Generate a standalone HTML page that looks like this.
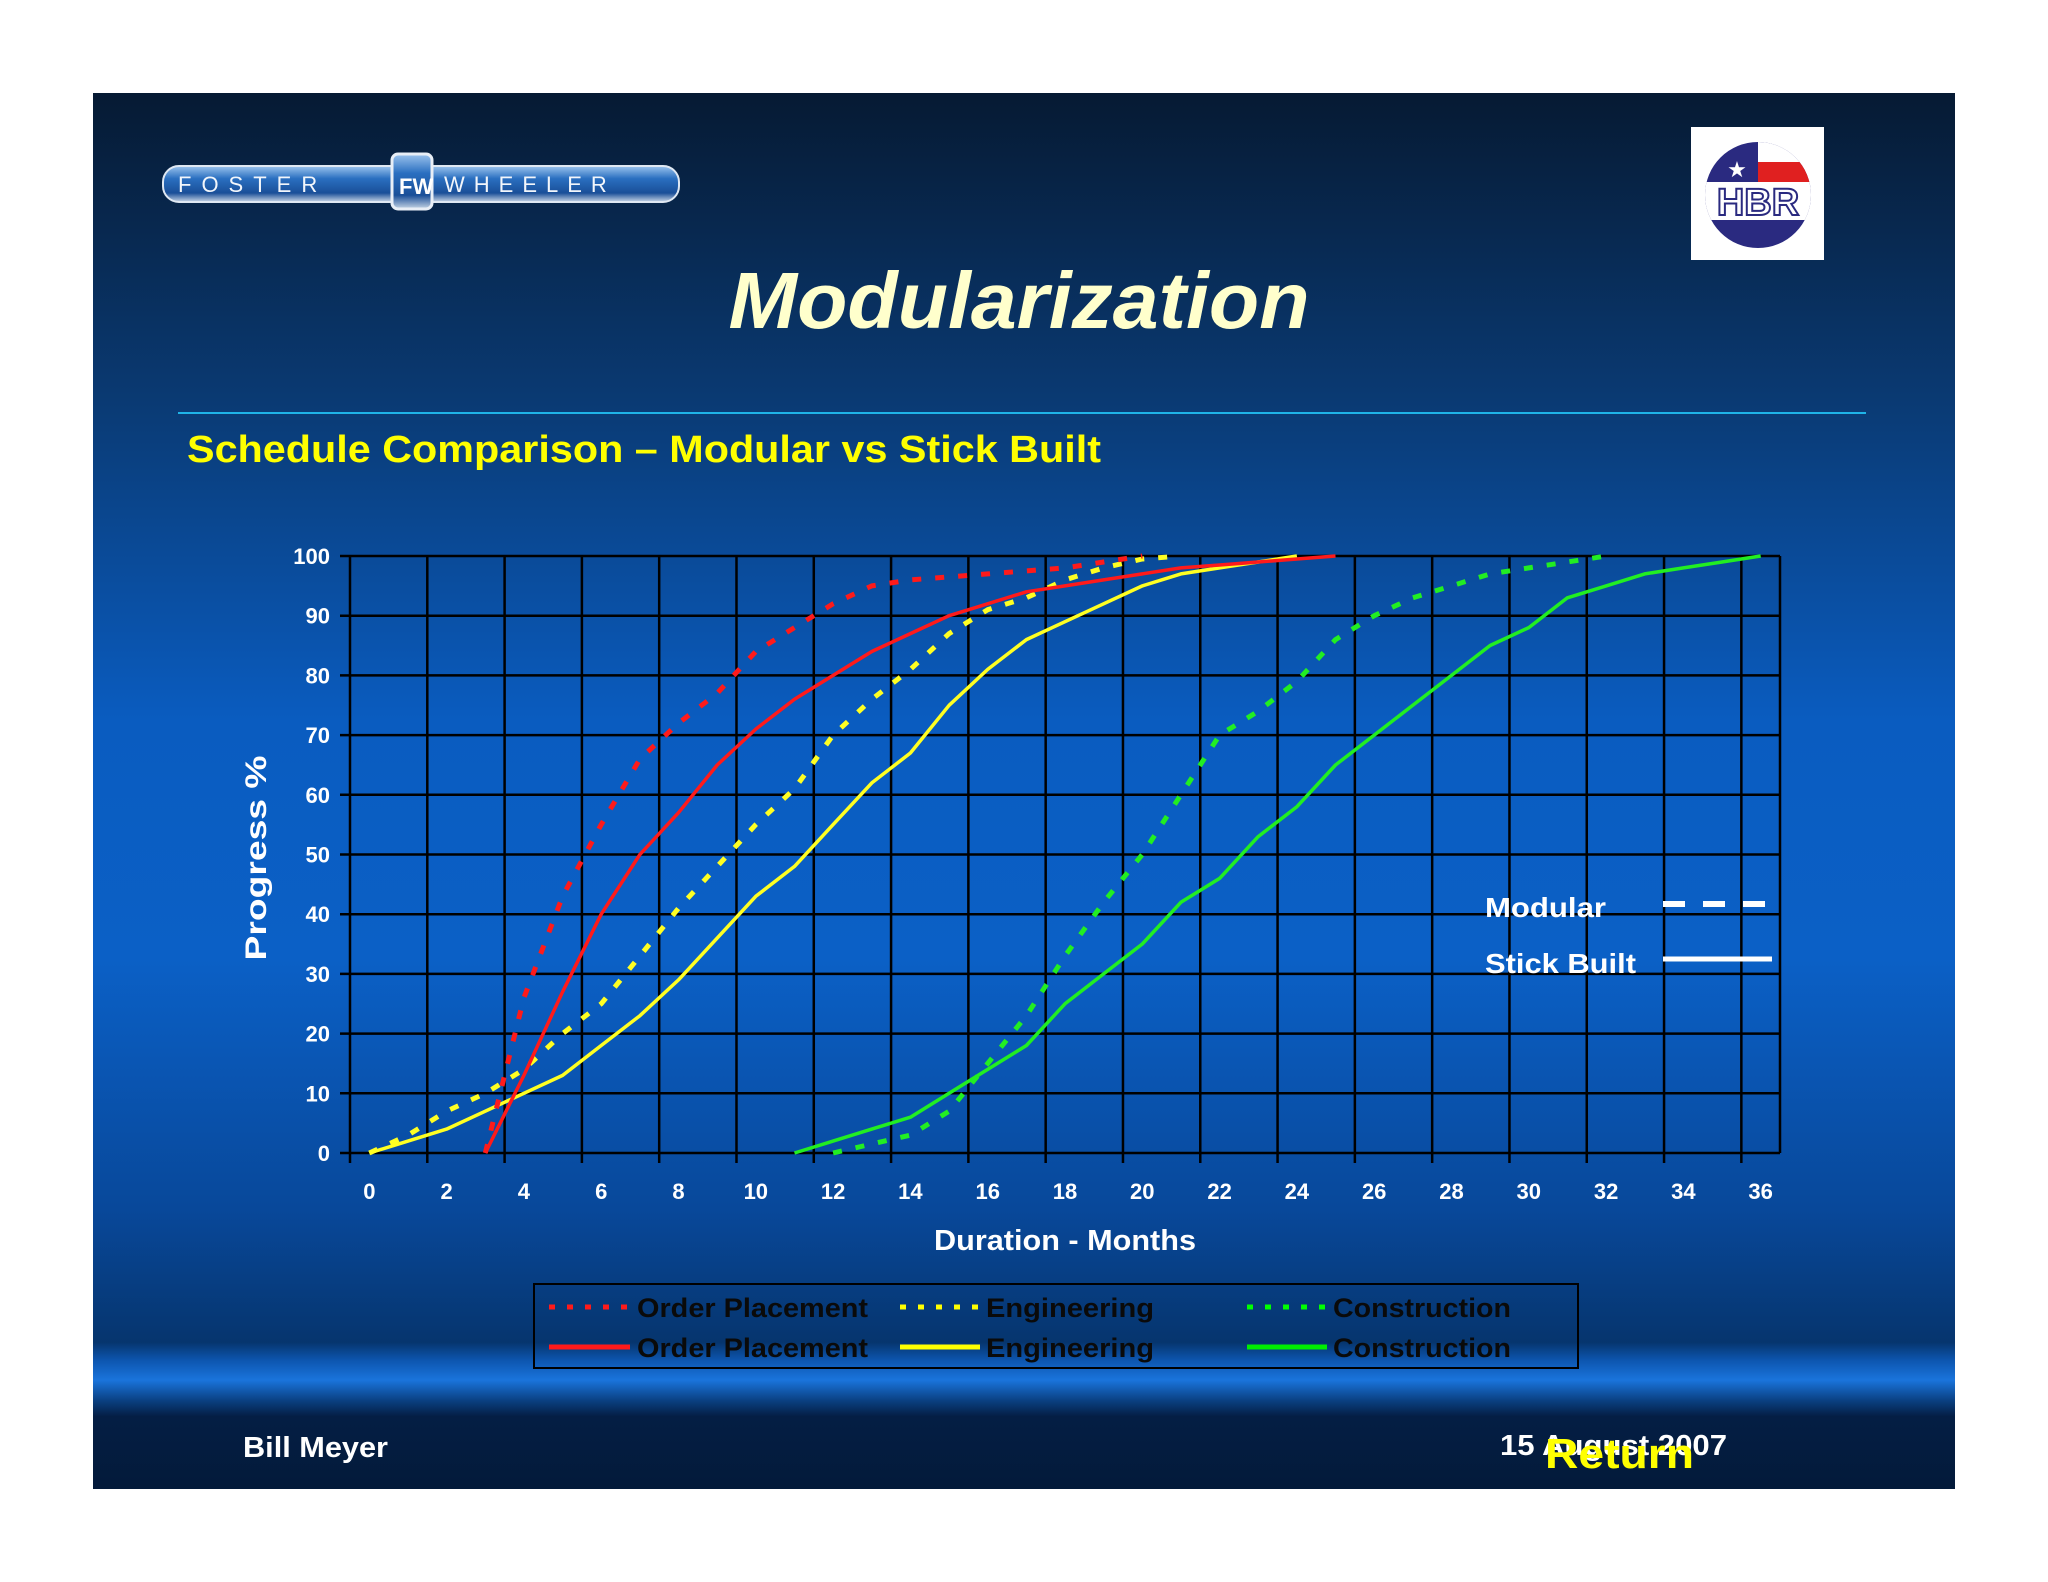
<!DOCTYPE html>
<html><head><meta charset="utf-8"><title>Modularization</title>
<style>
html,body{margin:0;padding:0;background:#fff;}
svg{display:block;font-family:"Liberation Sans",Arial,sans-serif;}
</style></head>
<body>
<svg id="slide" width="2048" height="1582" viewBox="0 0 2048 1582" xmlns="http://www.w3.org/2000/svg">
<defs>
<linearGradient id="bg" x1="0" y1="0" x2="0" y2="1">
<stop offset="0" stop-color="#061a33"/>
<stop offset="0.22" stop-color="#0a3a73"/>
<stop offset="0.45" stop-color="#0a5cc0"/>
<stop offset="0.62" stop-color="#0b60c6"/>
<stop offset="0.80" stop-color="#08489a"/>
<stop offset="0.895" stop-color="#06356e"/>
<stop offset="0.908" stop-color="#0d56b0"/>
<stop offset="0.922" stop-color="#1a74dc"/>
<stop offset="0.937" stop-color="#0a3f80"/>
<stop offset="0.948" stop-color="#041e44"/>
<stop offset="1" stop-color="#031a3a"/>
</linearGradient>
<linearGradient id="pill" x1="0" y1="0" x2="0" y2="1">
<stop offset="0" stop-color="#9cc4ee"/>
<stop offset="0.35" stop-color="#2a6fc0"/>
<stop offset="0.75" stop-color="#1a4f98"/>
<stop offset="1" stop-color="#c8d6e6"/>
</linearGradient>
</defs>
<rect x="93" y="93" width="1862" height="1396" fill="url(#bg)"/>

<g>
<rect x="163" y="166" width="516" height="36" rx="16" fill="url(#pill)" stroke="#dfe8f3" stroke-width="2"/>
<text x="178" y="192" font-size="22" fill="#f2f6fb" letter-spacing="10">FOSTER</text>
<text x="444" y="192" font-size="22" fill="#f2f6fb" letter-spacing="9">WHEELER</text>
<rect x="392" y="154" width="40" height="55" rx="6" fill="url(#pill)" stroke="#e8eef6" stroke-width="3"/>
<text x="399" y="194" font-size="22" font-weight="bold" fill="#fff">FW</text>
</g>

<g>
<rect x="1691" y="127" width="133" height="133" fill="#ffffff"/>
<clipPath id="circ"><circle cx="1758" cy="195" r="53"/></clipPath>
<g clip-path="url(#circ)">
<rect x="1700" y="140" width="120" height="115" fill="#2a2a80"/>
<rect x="1758" y="140" width="60" height="22" fill="#ffffff"/>
<rect x="1758" y="162" width="60" height="20" fill="#e02020"/>
<rect x="1700" y="182" width="120" height="38" fill="#ffffff"/>
</g>
<text x="1737" y="177" font-size="22" fill="#fff" text-anchor="middle">★</text>
<text x="1758" y="215" font-size="38" font-weight="bold" fill="#ffffff" stroke="#2a2a80" stroke-width="2" text-anchor="middle">HBR</text>
</g>

<text x="1019" y="328" font-size="80" font-weight="bold" font-style="italic" fill="#ffffcc" text-anchor="middle" textLength="581" lengthAdjust="spacingAndGlyphs">Modularization</text>
<line x1="178" y1="413" x2="1866" y2="413" stroke="#1fb4e8" stroke-width="2"/>
<text x="187" y="462" font-size="38" font-weight="bold" fill="#ffff00" textLength="914" lengthAdjust="spacingAndGlyphs">Schedule Comparison – Modular vs Stick Built</text>

<g id="chart"></g>

<g>
<text x="1485" y="917" font-size="28" font-weight="bold" fill="#fff" textLength="121" lengthAdjust="spacingAndGlyphs">Modular</text>
<line x1="1663" y1="904" x2="1768" y2="904" stroke="#fff" stroke-width="6" stroke-dasharray="22,18"/>
<text x="1485" y="973" font-size="28" font-weight="bold" fill="#fff" textLength="151" lengthAdjust="spacingAndGlyphs">Stick Built</text>
<line x1="1663" y1="959" x2="1772" y2="959" stroke="#fff" stroke-width="5"/>
</g>

<g>
<rect x="534" y="1284" width="1044" height="84" fill="none" stroke="#000" stroke-width="2"/>
<g><line x1="549" y1="1307" x2="630" y2="1307" stroke="#ff1a1a" stroke-width="5" stroke-dasharray="6,12"/><text x="637" y="1317" font-size="27" font-weight="bold" fill="#0a0a0a" textLength="231" lengthAdjust="spacingAndGlyphs">Order Placement</text></g>
<g><line x1="900" y1="1307" x2="980" y2="1307" stroke="#ffff00" stroke-width="5" stroke-dasharray="6,12"/><text x="986" y="1317" font-size="27" font-weight="bold" fill="#0a0a0a" textLength="168" lengthAdjust="spacingAndGlyphs">Engineering</text></g>
<g><line x1="1247" y1="1307" x2="1327" y2="1307" stroke="#00ff00" stroke-width="5" stroke-dasharray="6,12"/><text x="1333" y="1317" font-size="27" font-weight="bold" fill="#0a0a0a" textLength="178" lengthAdjust="spacingAndGlyphs">Construction</text></g>
<g><line x1="549" y1="1347" x2="630" y2="1347" stroke="#ff1a1a" stroke-width="5"/><text x="637" y="1357" font-size="27" font-weight="bold" fill="#0a0a0a" textLength="231" lengthAdjust="spacingAndGlyphs">Order Placement</text></g>
<g><line x1="900" y1="1347" x2="980" y2="1347" stroke="#ffff00" stroke-width="5"/><text x="986" y="1357" font-size="27" font-weight="bold" fill="#0a0a0a" textLength="168" lengthAdjust="spacingAndGlyphs">Engineering</text></g>
<g><line x1="1247" y1="1347" x2="1327" y2="1347" stroke="#00ee00" stroke-width="5"/><text x="1333" y="1357" font-size="27" font-weight="bold" fill="#0a0a0a" textLength="178" lengthAdjust="spacingAndGlyphs">Construction</text></g>
</g>

<text x="243" y="1457" font-size="29" font-weight="bold" fill="#fff" textLength="145" lengthAdjust="spacingAndGlyphs">Bill Meyer</text>
<text x="1500" y="1455" font-size="29" font-weight="bold" fill="#fff" textLength="227" lengthAdjust="spacingAndGlyphs">15 August 2007</text>
<text x="1545" y="1468" font-size="42" font-weight="bold" fill="#ffff00" textLength="149" lengthAdjust="spacingAndGlyphs">Return</text>
</svg>
<script>
const months = [0,1,2,3,4,5,6,7,8,9,10,11,12,13,14,15,16,17,18,19,20,21,22,23,24,25,26,27,28,29,30,31,32,33,34,35,36];
const yTicks = [0,10,20,30,40,50,60,70,80,90,100];
const xTickLabels = [0,2,4,6,8,10,12,14,16,18,20,22,24,26,28,30,32,34,36];
const N = null;
const modularOrder = [N,N,N,0,26,43,55,66,72,77,84,88,92,95,96,96.5,97,97.5,98,99,100,N,N,N,N,N,N,N,N,N,N,N,N,N,N,N,N];
const modularEngineering = [0,3,7,10,14,20,25,33,41,48,55,61,70,76,81,87,91,93,96,98,99.5,100,N,N,N,N,N,N,N,N,N,N,N,N,N,N,N];
const modularConstruction = [N,N,N,N,N,N,N,N,N,N,N,N,0,1.5,3,7,15,23,33,42,50,60,70,74,79,86,90,93,95,97,98,99,100,N,N,N,N];
const stickOrder = [N,N,N,0,13,27,40,50,57,65,71,76,80,84,87,90,92,94,95,96,97,98,98.5,99,99.5,100,N,N,N,N,N,N,N,N,N,N,N];
const stickEngineering = [0,2,4,7,10,13,18,23,29,36,43,48,55,62,67,75,81,86,89,92,95,97,98,99,100,N,N,N,N,N,N,N,N,N,N,N,N];
const stickConstruction = [N,N,N,N,N,N,N,N,N,N,N,0,2,4,6,10,14,18,25,30,35,42,46,53,58,65,70,75,80,85,88,93,95,97,98,99,100];

const NS = "http://www.w3.org/2000/svg";
const chart = document.getElementById('chart');
const L = 350, R = 1780, T = 556, B = 1153;
const step = (R - L) / months.length;
function xPos(m){ return L + step * (m + 0.5); }
function yPos(v){ return B - (v / 100) * (B - T); }
function mk(tag, attrs, parent){ const e = document.createElementNS(NS, tag); for (const k in attrs) e.setAttribute(k, attrs[k]); (parent||chart).appendChild(e); return e; }

const grid = mk('g', {});


yTicks.forEach(v => {
  const ln = mk('line', {x1: L - 10, x2: R, y1: yPos(v), y2: yPos(v), stroke: '#000', 'stroke-width': 2.5}, grid);
  
  
  const t = mk('text', {x: 330, y: yPos(v) + 8, 'font-size': 22, 'font-weight': 'bold', fill: '#fff', 'text-anchor': 'end'});
  t.textContent = v;
  
  
});
for (let k = 0; k * 2 <= months.length; k++) {
  const x = Math.min(L + step * 2 * k, R);
  const ln = mk('line', {x1: x, x2: x, y1: T, y2: B + 10, stroke: '#000', 'stroke-width': 2.5}, grid);
  
  
}
mk('line', {x1: R, x2: R, y1: T, y2: B, stroke: '#000', 'stroke-width': 2.5}, grid);
xTickLabels.forEach(m => {
  const t = mk('text', {x: xPos(m), y: 1199, 'font-size': 22, 'font-weight': 'bold', fill: '#fff', 'text-anchor': 'middle'});
  t.textContent = m;
  
  
});
const yt = mk('text', {x: 0, y: 0, transform: 'translate(266,858) rotate(-90)', 'font-size': 30, 'font-weight': 'bold', fill: '#fff', 'text-anchor': 'middle', textLength: 205, lengthAdjust: 'spacingAndGlyphs'});
yt.textContent = 'Progress %';


const xt = mk('text', {x: 1065, y: 1250, 'font-size': 29, 'font-weight': 'bold', fill: '#fff', 'text-anchor': 'middle', textLength: 262, lengthAdjust: 'spacingAndGlyphs'});
xt.textContent = 'Duration - Months';



function series(vals, color, dashed, name){
  const pts = [];
  vals.forEach((v, i) => { if (v !== null) pts.push(xPos(months[i]).toFixed(1) + ',' + yPos(v).toFixed(1)); });
  const p = mk('polyline', {points: pts.join(' '), fill: 'none', stroke: color, 'stroke-width': dashed ? 5 : 3.5, 'stroke-linejoin': 'round'});
  if (dashed) p.setAttribute('stroke-dasharray', '9,14');
  
  
}
series(stickConstruction, '#22ee22', false, 'stick-construction-line');
series(modularConstruction, '#22ee22', true, 'modular-construction-line');
series(stickEngineering, '#ffff22', false, 'stick-engineering-line');
series(modularEngineering, '#ffff22', true, 'modular-engineering-line');
series(modularOrder, '#ff1a1a', true, 'modular-order-line');
series(stickOrder, '#ff1a1a', false, 'stick-order-line');
</script>
</body></html>
